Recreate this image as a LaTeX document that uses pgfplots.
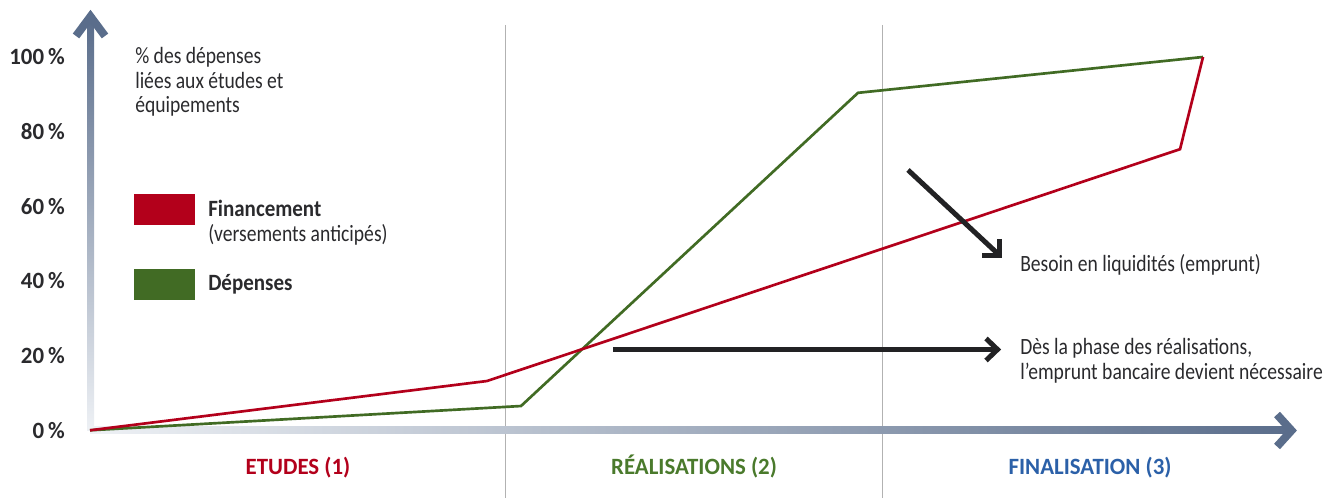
\documentclass[border=0pt]{standalone}
\usepackage{fontspec}
\setmainfont{Carlito}[FakeStretch=0.84, BoldFeatures={FakeStretch=0.90}]
\newfontfamily\wideb{Carlito}[FakeStretch=0.98]
\usepackage{pgfplots}
\pgfplotsset{compat=1.18}
\definecolor{fin}{HTML}{B3001B}
\definecolor{dep}{HTML}{416B24}
\definecolor{phblue}{HTML}{2B60A8}
\definecolor{phgreen}{HTML}{4A7A2C}
\definecolor{axdark}{HTML}{5A6D8B}
\definecolor{axlight}{HTML}{EEF1F5}
\definecolor{txt}{HTML}{2A2A2D}
\definecolor{arr}{HTML}{222224}
\newcommand\tf{\fontsize{17.5}{18.4}\selectfont}
\begin{document}
\begin{tikzpicture}
% background: phase separators and axis arrows (pixel coordinates)
\begin{scope}[x=0.75pt,y=-0.75pt,shift={(0pt,373.5pt)}]
  \draw[gray!60, line width=0.8pt] (505.5,25) -- (505.5,498);
  \draw[gray!60, line width=0.8pt] (882.5,25) -- (882.5,498);
  \shade[bottom color=axlight, top color=axdark] (87,431) rectangle (94,20);
  \shade[left color=axlight, right color=axdark] (90,427) rectangle (1291,434);
  \draw[axdark, line width=6pt] (76,36) -- (90.5,16.5) -- (105,36);
  \draw[axdark, line width=6pt] (1277,414.5) -- (1291.5,430.5) -- (1277,446.5);
\end{scope}
\begin{axis}[
  at={(0pt,0pt)}, anchor=south west,
  scale only axis, width=999.75pt, height=373.5pt,
  xmin=0, xmax=1333, ymin=-18.14, ymax=115.27,
  clip=false,
  axis line style={draw=none}, tick style={draw=none},
  ytick={0,20,40,60,80,100},
  yticklabels={0\,\%,20\,\%,40\,\%,60\,\%,80\,\%,100\,\%},
  yticklabel style={anchor=east, inner sep=0pt, xshift=48.75pt,
    font=\wideb\tf\bfseries, text=txt},
  xtick={298,694,1090},
  xticklabels={\textcolor{fin}{ETUDES (1)},\textcolor{phgreen}{RÉALISATIONS (2)},\textcolor{phblue}{FINALISATION (3)}},
  xticklabel style={anchor=base, inner sep=0pt, yshift=17.25pt, font=\wideb\tf\bfseries},
]
\addplot[dep, line width=2pt] coordinates {(90,0) (521,6.5) (858,90.4) (1203,100)};
\addplot[fin, line width=2pt] coordinates {(90,0) (487,13.2) (1180,75.3) (1203,100)};
\end{axis}
% annotations (pixel coordinates)
\begin{scope}[x=0.75pt,y=-0.75pt,shift={(0pt,373.5pt)}]
  \draw[arr, line width=3.75pt] (613,349.5) -- (996,349.5);
  \draw[arr, line width=3.75pt] (986,338.5) -- (997.5,349.5) -- (986,360.5);
  \draw[arr, line width=3.75pt] (908,170) -- (997,253);
  \draw[arr, line width=3.75pt] (999.5,239) -- (999.5,255.5) -- (982,255.5);
  \fill[fin] (134,194) rectangle (195,225);
  \fill[dep] (134,269) rectangle (195,300);
  \begin{scope}[every node/.style={anchor=base west, inner sep=0pt, text=txt, font=\tf}]
    \node at (135,64) {\% des dépenses};
    \node at (135,89) {liées aux études et};
    \node at (135,113) {équipements};
    \node[font=\tf\bfseries] at (208,217) {Financement};
    \node at (208,242) {(versements anticipés)};
    \node[font=\tf\bfseries] at (208,291) {Dépenses};
    \node at (1020,272) {Besoin en liquidités (emprunt)};
    \node at (1020,355) {Dès la phase des réalisations,};
    \node at (1020,380) {l’emprunt bancaire devient nécessaire};
  \end{scope}
\end{scope}
\pgfresetboundingbox
\path (0pt,0pt) rectangle (999.75pt,373.5pt);
\end{tikzpicture}
\end{document}
